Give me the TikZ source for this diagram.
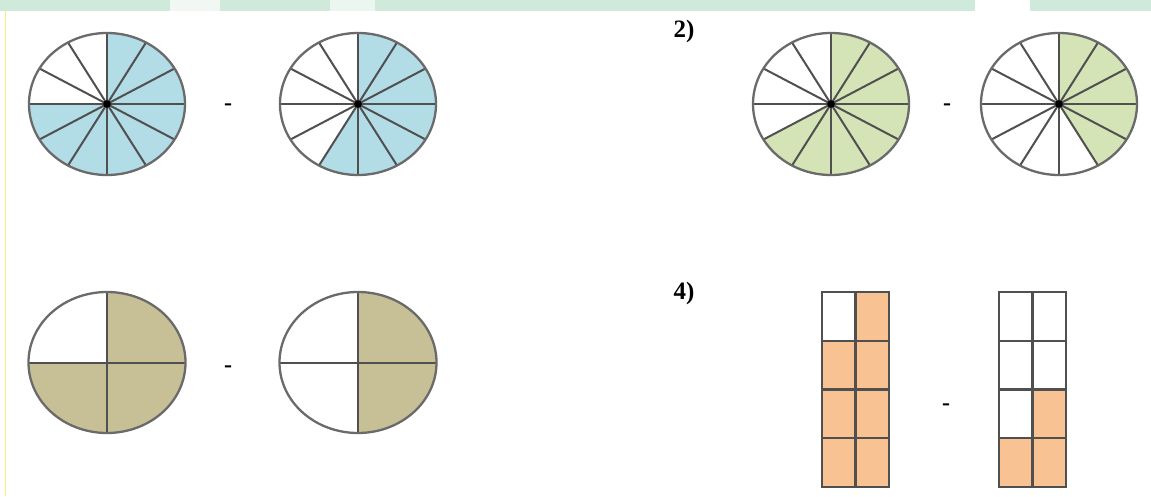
\documentclass[tikz,border=0pt]{standalone}
\usepackage{fontspec}
\setmainfont{Liberation Serif}
\definecolor{wblue}{HTML}{B2DCE6}
\definecolor{wgreen}{HTML}{D5E4B7}
\definecolor{wtan}{HTML}{C7BF96}
\definecolor{worange}{HTML}{F8C292}
\definecolor{rimgray}{HTML}{6A6A6A}
\definecolor{spokegray}{HTML}{505050}
\definecolor{mint}{HTML}{CFE9DB}
\definecolor{markyellow}{HTML}{F4F07A}
\tikzset{
  rim/.style={draw=rimgray, line width=2.3pt},
  spoke/.style={draw=spokegray, line width=2pt},
  gridline/.style={draw=spokegray, line width=2.2pt},
  minus/.style={font=\bfseries\fontsize{24}{26}\selectfont, inner sep=0pt, anchor=base},
  label/.style={font=\bfseries\fontsize{25}{27}\selectfont, inner sep=0pt},
}
% twelve-part wheel: name, cx, cy, from, to, colour
\newcommand\twelvewheel[6]{%
  \coordinate (#1) at (#2,#3);
  \fill[#6] (#1) -- ([shift={(#4:78pt and 71pt)}]#1)
     arc[start angle=#4, end angle=#5, x radius=78pt, y radius=71pt] -- cycle;
  \foreach \a in {0,30,...,150}
    \draw[spoke] ([shift={(\a:78pt and 71pt)}]#1) -- ([shift={(\a+180:78pt and 71pt)}]#1);
  \draw[rim] (#1) ellipse[x radius=78pt, y radius=71pt];
  \fill[black] (#1) circle[radius=3.8pt];
}
% four-part wheel: name, cx, cy, from, to, colour
\newcommand\fourwheel[6]{%
  \coordinate (#1) at (#2,#3);
  \fill[#6] (#1) -- ([shift={(#4:78.5pt and 70.5pt)}]#1)
     arc[start angle=#4, end angle=#5, x radius=78.5pt, y radius=70.5pt] -- cycle;
  \foreach \a in {0,90}
    \draw[spoke] ([shift={(\a:78.5pt and 70.5pt)}]#1) -- ([shift={(\a+180:78.5pt and 70.5pt)}]#1);
  \draw[rim] (#1) ellipse[x radius=78.5pt, y radius=70.5pt];
}
\begin{document}
\begin{tikzpicture}[x=1pt,y=1pt]
\useasboundingbox (0,0) rectangle (1151,496);
\fill[white] (0,0) rectangle (1151,496);
% watermark traces
\fill[mint] (0,485) rectangle (1151,496);
\fill[white!70!mint] (170,485) rectangle (220,496);
\fill[white!60!mint] (330,485) rectangle (375,496);
\fill[white] (975,485) rectangle (1030,496);
\draw[markyellow, line width=1.3pt] (5.5,0) -- (5.5,485);

% 1) twelve-part wheels, blue
\twelvewheel{a1}{107}{392}{180}{450}{wblue}
\node[minus] (ma) at (228,385) {-};
\twelvewheel{a2}{358}{392}{240}{450}{wblue}

% 2) twelve-part wheels, green
\node[label] (l2) at (684,465) {2)};
\twelvewheel{b1}{831}{392}{210}{450}{wgreen}
\node[minus] (mb) at (947,385) {-};
\twelvewheel{b2}{1059}{392}{-60}{90}{wgreen}

% 3) quarters, tan
\fourwheel{c1}{107}{133.5}{180}{450}{wtan}
\node[minus] (mc) at (228,124) {-};
\fourwheel{c2}{358}{133.5}{-90}{90}{wtan}

% 4) grids, orange
\node[label] (l4) at (684,203) {4)};
\fill[worange] (822,9) rectangle (889,204);
\fill[white] (822,155.25) rectangle (855.5,204);
\draw[gridline] (822,9) rectangle (889,204);
\draw[gridline] (855.5,9) -- (855.5,204);
\foreach \k in {1,2,3} \draw[gridline] (822,9+48.75*\k) -- (889,9+48.75*\k);
\node[minus] (md) at (946,86) {-};
\fill[worange] (999,9) rectangle (1066,57.75);
\fill[worange] (1032.5,57.75) rectangle (1066,106.5);
\draw[gridline] (999,9) rectangle (1066,204);
\draw[gridline] (1032.5,9) -- (1032.5,204);
\foreach \k in {1,2,3} \draw[gridline] (999,9+48.75*\k) -- (1066,9+48.75*\k);
\end{tikzpicture}
\end{document}
